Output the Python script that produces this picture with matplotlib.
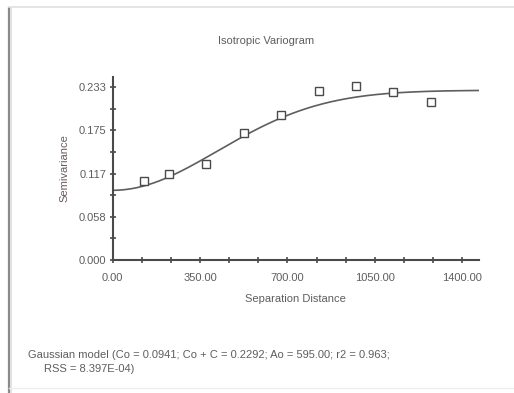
import matplotlib
matplotlib.use("Agg", force=True)

import numpy as np
import matplotlib.pyplot as plt
from matplotlib.lines import Line2D

plt.rcParams["font.family"] = ["Liberation Sans", "DejaVu Sans"]

lag_distance = [128, 225, 374, 525, 674, 825, 974, 1124, 1274]
semivariance = [0.1066, 0.1156, 0.129, 0.172, 0.1956, 0.2284, 0.2351, 0.227, 0.2136]

# fitted Gaussian model, parameters as printed under the chart
nugget = 0.0941
sill = 0.2292
range_a0 = 595.00
r2 = 0.963
rss = "8.397E-04"

x_ticks = [0, 350, 700, 1050, 1400]
y_ticks = [0, 0.2333 / 4, 0.2333 / 2, 0.2333 * 3 / 4, 0.2333]
y_ticklabels = ["0.000", "0.058", "0.117", "0.175", "0.233"]

ink = "#4a4a4a"
text_col = "#5e5e5e"

fig = plt.figure(figsize=(5.14, 3.93), dpi=100)
fig.patch.set_facecolor("white")

# frame around the chart window
fig.add_artist(Line2D([9 / 514, 9 / 514], [0, 1 - 8 / 393], color="#8a8a8a", lw=1.6,
                      transform=fig.transFigure))
fig.add_artist(Line2D([11 / 514, 11 / 514], [0, 1 - 8 / 393], color="#dddddd", lw=1.2,
                      transform=fig.transFigure))
fig.add_artist(Line2D([9 / 514, 1], [1 - 7 / 393, 1 - 7 / 393], color="#e0e0e0", lw=1.2,
                      transform=fig.transFigure))
fig.add_artist(Line2D([9 / 514, 1], [5 / 393, 5 / 393], color="#eeeeee", lw=1.0,
                      transform=fig.transFigure))

ax = fig.add_axes([112.5 / 514, 1 - 260 / 393, (479 - 112.5) / 514, (260 - 76.7) / 393])

h = np.linspace(0, 1467, 400)
model = nugget + (sill - nugget) * (1 - np.exp(-(h / range_a0) ** 2))
ax.plot(h, model, color="#5e5e5e", lw=1.2, zorder=2)
ax.plot(lag_distance, semivariance, ls="none", marker="s", ms=6.3,
        mfc="white", mec=ink, mew=1.0, zorder=3)

ax.set_xlim(0, 1467)
ax.set_ylim(0, 0.2475)

for s in ["top", "right"]:
    ax.spines[s].set_visible(False)
for s in ["left", "bottom"]:
    ax.spines[s].set_color(ink)
    ax.spines[s].set_linewidth(1.5)

ax.set_xticks(x_ticks)
ax.set_xticklabels([f"{v:.2f}" for v in x_ticks])
ax.set_xticks(np.arange(0, 1401, 350 / 3), minor=True)
ax.set_yticks(y_ticks)
ax.set_yticklabels(y_ticklabels)
ax.set_yticks(np.arange(0, 0.2334, 0.2333 / 8), minor=True)

ax.tick_params(which="both", direction="inout", color=ink, width=1.2)
ax.tick_params(which="major", length=5, labelsize=8, labelcolor=text_col, pad=2)
ax.tick_params(which="minor", length=4)
ax.tick_params(axis="x", which="major", pad=7)

fig.text(266 / 514, 1 - 41 / 393, "Isotropic Variogram", ha="center", va="center",
         fontsize=8, color=text_col)
fig.text(295 / 514, 1 - 299 / 393, "Separation Distance", ha="center", va="center",
         fontsize=8, color=text_col)
fig.text(64 / 514, 1 - 168 / 393, "Semivariance", ha="center", va="center",
         rotation=90, fontsize=8, color="#6b5a58")

fig.text(28 / 514, 1 - 355 / 393,
         f"Gaussian model (Co = {nugget:.4f}; Co + C = {sill:.4f}; Ao = {range_a0:.2f}; r2 = {r2:.3f};",
         ha="left", va="center", fontsize=8, color=text_col)
fig.text(44 / 514, 1 - 369 / 393, f"RSS = {rss})",
         ha="left", va="center", fontsize=8, color=text_col)

fig.savefig("out.png", dpi=100, facecolor="white")
plt.close(fig)
